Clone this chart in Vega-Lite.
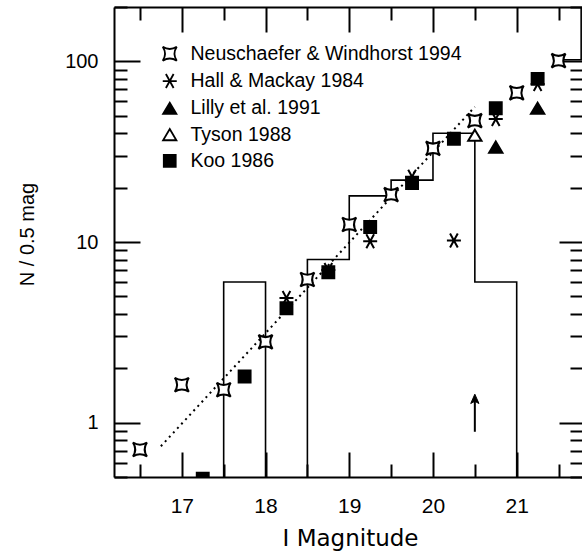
{
  "$schema": "https://vega.github.io/schema/vega-lite/v6.json",
  "width": 468,
  "height": 470,
  "autosize": {"type": "none"},
  "padding": {"left": 114, "top": 7, "right": 0, "bottom": 80},
  "background": "white",
  "config": {"view": {"stroke": null}},
  "datasets": {
    "hist": [
      {"x": 17.5, "n": 0.3, "o": 1},
      {"x": 17.5, "n": 6, "o": 2},
      {"x": 18.0, "n": 0.3, "o": 3},
      {"x": 18.5, "n": 8, "o": 4},
      {"x": 19.0, "n": 18, "o": 5},
      {"x": 19.5, "n": 22, "o": 6},
      {"x": 20.0, "n": 40, "o": 7},
      {"x": 20.5, "n": 6, "o": 8},
      {"x": 21.0, "n": 0.3, "o": 9}
    ],
    "tail": [
      {"x": 21.5, "n": 102, "o": 1},
      {"x": 21.77, "n": 102, "o": 2},
      {"x": 21.77, "n": 300, "o": 3}
    ],
    "fit": [
      {"x": 16.75, "n": 0.74},
      {"x": 20.5, "n": 56}
    ],
    "arrow": [
      {"x": 20.5, "n": 0.89, "n2": 1.34}
    ],
    "pts": [
      {"s": "Neuschaefer & Windhorst 1994", "x": 16.5, "n": 0.71},
      {"s": "Neuschaefer & Windhorst 1994", "x": 17.0, "n": 1.62},
      {"s": "Neuschaefer & Windhorst 1994", "x": 17.5, "n": 1.52},
      {"s": "Neuschaefer & Windhorst 1994", "x": 18.0, "n": 2.8},
      {"s": "Neuschaefer & Windhorst 1994", "x": 18.5, "n": 6.2},
      {"s": "Neuschaefer & Windhorst 1994", "x": 19.0, "n": 12.5},
      {"s": "Neuschaefer & Windhorst 1994", "x": 19.5, "n": 18.3},
      {"s": "Neuschaefer & Windhorst 1994", "x": 20.0, "n": 33},
      {"s": "Neuschaefer & Windhorst 1994", "x": 20.5, "n": 47},
      {"s": "Neuschaefer & Windhorst 1994", "x": 21.0, "n": 67},
      {"s": "Neuschaefer & Windhorst 1994", "x": 21.5, "n": 101},
      {"s": "Hall & Mackay 1984", "x": 18.25, "n": 4.9},
      {"s": "Hall & Mackay 1984", "x": 18.75, "n": 7.0},
      {"s": "Hall & Mackay 1984", "x": 19.25, "n": 10.1},
      {"s": "Hall & Mackay 1984", "x": 19.75, "n": 23},
      {"s": "Hall & Mackay 1984", "x": 20.25, "n": 10.2},
      {"s": "Hall & Mackay 1984", "x": 20.75, "n": 48},
      {"s": "Hall & Mackay 1984", "x": 21.25, "n": 75},
      {"s": "Lilly et al. 1991", "x": 20.75, "n": 33.5},
      {"s": "Lilly et al. 1991", "x": 21.25, "n": 55},
      {"s": "Tyson 1988", "x": 20.5, "n": 39},
      {"s": "Koo 1986", "x": 17.25, "n": 0.49},
      {"s": "Koo 1986", "x": 17.75, "n": 1.8},
      {"s": "Koo 1986", "x": 18.25, "n": 4.3},
      {"s": "Koo 1986", "x": 18.75, "n": 6.8},
      {"s": "Koo 1986", "x": 19.25, "n": 12.1},
      {"s": "Koo 1986", "x": 19.75, "n": 21.2},
      {"s": "Koo 1986", "x": 20.25, "n": 37.3},
      {"s": "Koo 1986", "x": 20.75, "n": 55},
      {"s": "Koo 1986", "x": 21.25, "n": 80}
    ]
  },
  "resolve": {"axis": {"x": "independent", "y": "independent"}},
  "layer": [
    {
      "data": {"name": "hist"},
      "mark": {"type": "line", "interpolate": "step-after", "stroke": "black", "strokeWidth": 1.6, "clip": true},
      "encoding": {
        "x": {"field": "x", "type": "quantitative",
          "scale": {"domain": [16.19, 21.78], "nice": false, "zero": false},
          "axis": {"orient": "bottom", "grid": false,
            "values": [16.5, 17, 17.5, 18, 18.5, 19, 19.5, 20, 20.5, 21, 21.5],
            "tickSize": {"condition": {"test": "datum.value % 1 == 0", "value": -25}, "value": -13},
            "tickColor": "black", "tickWidth": 2,
            "domainColor": "black", "domainWidth": 2,
            "labelExpr": "datum.value % 1 == 0 ? format(datum.value, 'd') : ''",
            "labelPadding": 43, "labelFont": "Liberation Sans", "labelFontSize": 21, "labelColor": "black",
            "labelFlush": false, "labelOverlap": false,
            "title": "I Magnitude", "titleFont": "DejaVu Sans", "titleFontSize": 23, "titleFontWeight": "normal",
            "titleColor": "black", "titleX": 236, "titleY": 68, "titleBaseline": "alphabetic", "titleAlign": "center"}
        },
        "y": {"field": "n", "type": "quantitative",
          "scale": {"type": "log", "domain": [0.5, 200], "nice": false},
          "axis": {"orient": "left", "grid": false,
            "values": [0.5, 0.6, 0.7, 0.8, 0.9, 1, 2, 3, 4, 5, 6, 7, 8, 9, 10, 20, 30, 40, 50, 60, 70, 80, 90, 100, 200],
            "tickSize": {"condition": {"test": "datum.value == 1 || datum.value == 10 || datum.value == 100", "value": -26}, "value": -13},
            "tickColor": "black", "tickWidth": 2,
            "domainColor": "black", "domainWidth": 2,
            "labelExpr": "datum.value == 1 ? '1' : datum.value == 10 ? '10' : datum.value == 100 ? '100' : ''",
            "labelPadding": 42, "labelFont": "Liberation Sans", "labelFontSize": 20, "labelColor": "black",
            "labelFlush": false, "labelOverlap": false,
            "title": "N / 0.5 mag", "titleFont": "Liberation Sans", "titleFontSize": 20, "titleFontWeight": "normal",
            "titleColor": "black", "titleX": -87, "titleY": 227, "titleAngle": -90, "titleBaseline": "middle", "titleAlign": "center"}
        },
        "order": {"field": "o", "type": "quantitative"}
      }
    },
    {
      "data": {"name": "fit"},
      "mark": {"type": "line", "stroke": "black", "strokeWidth": 2, "strokeDash": [2, 4], "clip": true},
      "encoding": {
        "x": {"field": "x", "type": "quantitative",
          "axis": {"orient": "top", "grid": false,
            "values": [16.5, 17, 17.5, 18, 18.5, 19, 19.5, 20, 20.5, 21, 21.5],
            "tickSize": {"condition": {"test": "datum.value % 1 == 0", "value": -25}, "value": -13},
            "tickColor": "black", "tickWidth": 2,
            "domainColor": "black", "domainWidth": 2,
            "labels": false, "title": null}
        },
        "y": {"field": "n", "type": "quantitative",
          "axis": {"orient": "right", "grid": false,
            "values": [0.5, 0.6, 0.7, 0.8, 0.9, 1, 2, 3, 4, 5, 6, 7, 8, 9, 10, 20, 30, 40, 50, 60, 70, 80, 90, 100, 200],
            "tickSize": {"condition": {"test": "datum.value == 1 || datum.value == 10 || datum.value == 100", "value": -23}, "value": -12},
            "tickColor": "black", "tickWidth": 2,
            "domain": false, "labels": false, "title": null}
        }
      }
    },
    {
      "data": {"name": "tail"},
      "mark": {"type": "line", "stroke": "black", "strokeWidth": 1.6, "clip": true},
      "encoding": {
        "x": {"field": "x", "type": "quantitative", "axis": null},
        "y": {"field": "n", "type": "quantitative", "axis": null},
        "order": {"field": "o", "type": "quantitative"}
      }
    },
    {
      "data": {"name": "arrow"},
      "mark": {"type": "rule", "stroke": "black", "strokeWidth": 2},
      "encoding": {
        "x": {"field": "x", "type": "quantitative", "axis": null},
        "y": {"field": "n", "type": "quantitative", "axis": null},
        "y2": {"field": "n2"}
      }
    },
    {
      "data": {"name": "arrow"},
      "mark": {"type": "point", "shape": "M0,-1L0.75,0.7L0,0.3L-0.75,0.7Z", "size": 120, "filled": true, "fill": "black", "stroke": "black", "strokeWidth": 1, "opacity": 1},
      "encoding": {
        "x": {"field": "x", "type": "quantitative", "axis": null},
        "y": {"field": "n2", "type": "quantitative", "axis": null}
      }
    },
    {
      "data": {"name": "pts"},
      "mark": {"type": "point", "size": 196, "stroke": "black", "strokeWidth": 2, "opacity": 1, "clip": true},
      "encoding": {
        "x": {"field": "x", "type": "quantitative", "axis": null},
        "y": {"field": "n", "type": "quantitative", "axis": null},
        "shape": {"field": "s", "type": "nominal",
          "scale": {"domain": ["Neuschaefer & Windhorst 1994", "Hall & Mackay 1984", "Lilly et al. 1991", "Tyson 1988", "Koo 1986"],
            "range": [
              "M-1,-1Q0,-0.35 1,-1Q0.35,0 1,1Q0,0.35 -1,1Q-0.35,0 -1,-1Z",
              "M-1,0L1,0M-0.55,-1L0.55,1M0.55,-1L-0.55,1",
              "M0,-0.8L0.95,0.8L-0.95,0.8Z",
              "M0,-0.8L0.95,0.8L-0.95,0.8Z",
              "M-0.85,-0.85L0.85,-0.85L0.85,0.85L-0.85,0.85Z"
            ]},
          "legend": {"orient": "none", "legendX": 46, "legendY": 37, "title": null, "padding": 0,
            "labelFont": "Liberation Sans", "labelFontSize": 19.5, "labelColor": "black", "labelLimit": 400,
            "symbolSize": 196, "symbolStrokeWidth": 1.8, "symbolStrokeColor": "black", "symbolOpacity": 1,
            "rowPadding": 5.3, "labelOffset": 11,
            "encode": {"symbols": {"update": {"stroke": {"value": "black"}, "strokeWidth": {"value": 1.8}}}}}
        },
        "fill": {"field": "s", "type": "nominal",
          "scale": {"domain": ["Neuschaefer & Windhorst 1994", "Hall & Mackay 1984", "Lilly et al. 1991", "Tyson 1988", "Koo 1986"],
            "range": ["white", "white", "black", "white", "black"]},
          "legend": {"orient": "none", "legendX": 46, "legendY": 37, "title": null, "padding": 0,
            "labelFont": "Liberation Sans", "labelFontSize": 19.5, "labelColor": "black", "labelLimit": 400,
            "symbolSize": 196, "symbolStrokeWidth": 1.8, "symbolStrokeColor": "black", "symbolOpacity": 1,
            "rowPadding": 5.3, "labelOffset": 11,
            "encode": {"symbols": {"update": {"stroke": {"value": "black"}, "strokeWidth": {"value": 1.8}}}}}
        }
      }
    }
  ]
}
